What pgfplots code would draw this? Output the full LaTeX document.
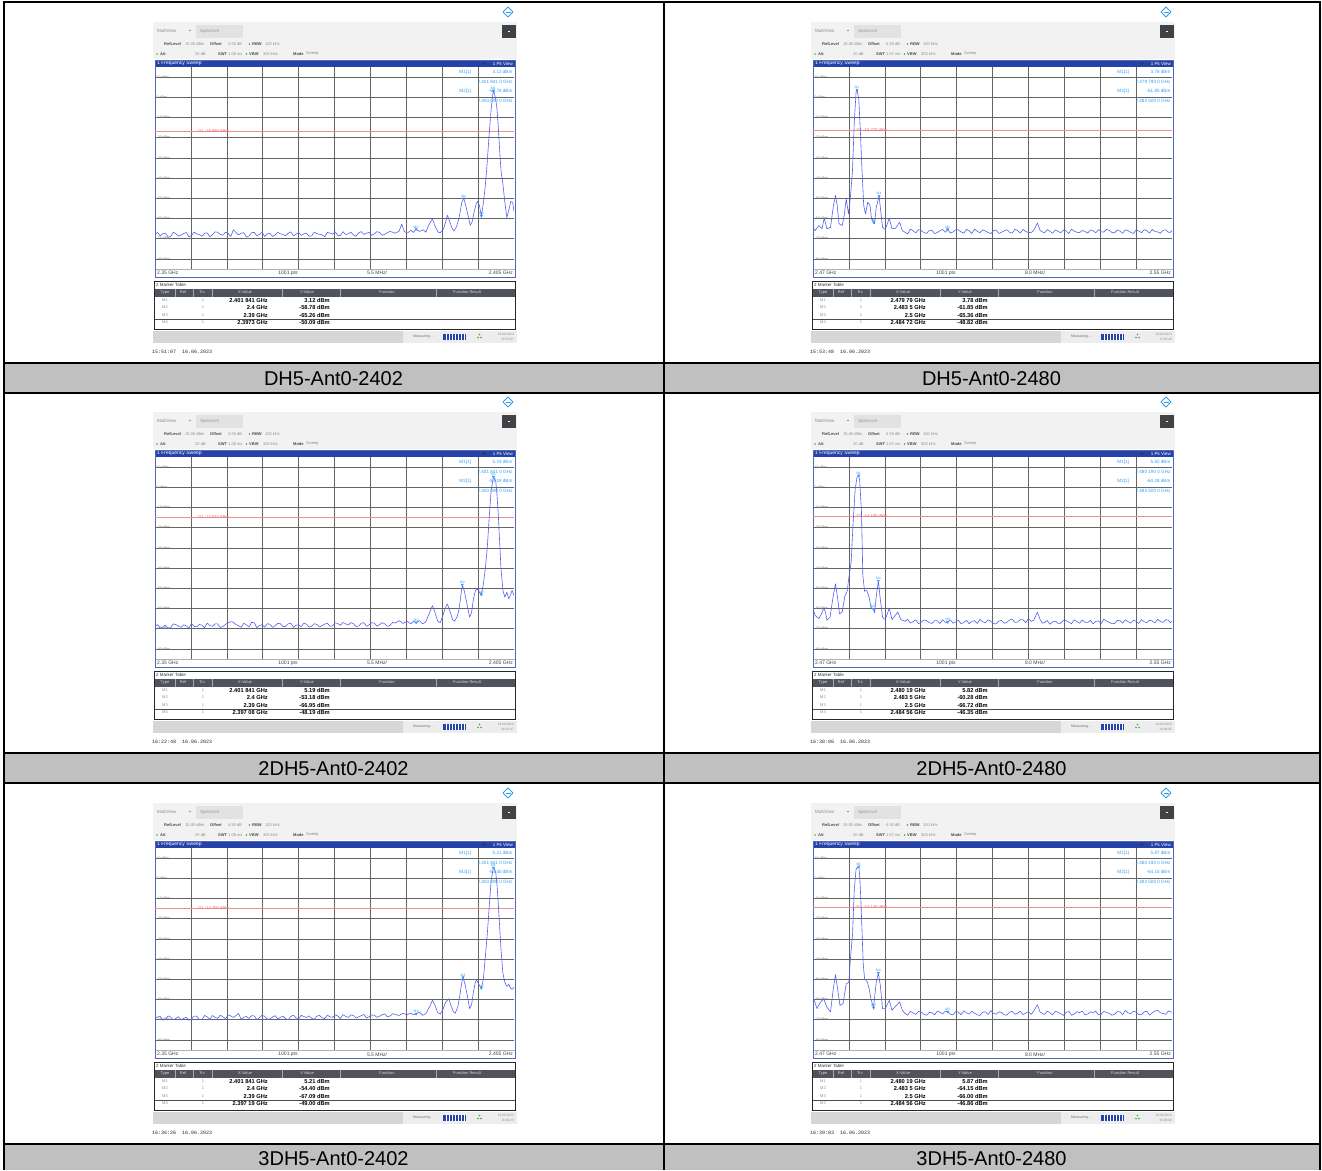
\documentclass[border=0pt]{standalone}
\usepackage{fontspec}
\setmainfont{Liberation Sans}
\setmonofont{Liberation Mono}
\usepackage{pgfplots}
\usepackage{pgfplotstable}
\pgfplotsset{compat=1.18}

\definecolor{rsblue}{RGB}{36,66,168}
\definecolor{trc}{RGB}{86,96,236}
\definecolor{mcol}{RGB}{48,158,240}
\definecolor{d1col}{RGB}{238,104,104}
\definecolor{gridc}{RGB}{100,100,100}
\definecolor{capgray}{RGB}{192,192,192}
\definecolor{hdrgray}{RGB}{242,242,242}
\definecolor{tabgray}{RGB}{226,226,226}
\definecolor{btngray}{RGB}{64,66,70}
\definecolor{thead}{RGB}{80,82,94}
\definecolor{statgray}{RGB}{214,214,214}
\definecolor{okgreen}{RGB}{60,168,60}

\newcommand\fsz[1]{\fontsize{#1}{#1}\selectfont}

% ---- traces (GHz, dBm) ----
\pgfplotstableread{
f p
2.3500 -67.8
2.3504 -66.9
2.3508 -68.6
2.3512 -67.5
2.3516 -67.2
2.3520 -69.2
2.3524 -68.9
2.3528 -66.8
2.3532 -67.5
2.3536 -68.7
2.3540 -68.2
2.3544 -67.4
2.3548 -66.9
2.3552 -69.1
2.3556 -68.4
2.3560 -66.7
2.3564 -67.6
2.3568 -68.0
2.3572 -68.8
2.3576 -67.3
2.3580 -67.1
2.3584 -69.0
2.3588 -68.0
2.3592 -66.6
2.3596 -66.8
2.3600 -67.9
2.3604 -68.3
2.3608 -66.7
2.3612 -67.4
2.3616 -68.9
2.3620 -65.6
2.3624 -66.9
2.3628 -68.1
2.3632 -67.3
2.3636 -67.0
2.3640 -69.2
2.3644 -68.7
2.3648 -67.0
2.3652 -66.9
2.3656 -68.5
2.3660 -67.9
2.3664 -66.7
2.3668 -68.9
2.3672 -67.6
2.3676 -67.3
2.3680 -68.9
2.3684 -68.2
2.3688 -66.8
2.3692 -67.6
2.3696 -67.9
2.3700 -68.5
2.3704 -67.3
2.3708 -66.6
2.3712 -68.6
2.3716 -67.8
2.3720 -66.9
2.3724 -68.4
2.3728 -67.6
2.3732 -67.2
2.3736 -68.8
2.3740 -68.6
2.3744 -66.7
2.3748 -67.5
2.3752 -67.8
2.3756 -68.1
2.3760 -69.0
2.3764 -66.9
2.3768 -67.2
2.3772 -67.7
2.3776 -66.6
2.3780 -68.3
2.3784 -68.5
2.3788 -66.5
2.3792 -67.9
2.3796 -67.6
2.3800 -66.7
2.3804 -68.2
2.3808 -68.8
2.3812 -67.1
2.3816 -66.5
2.3820 -67.9
2.3824 -67.3
2.3828 -66.8
2.3832 -68.4
2.3836 -67.6
2.3840 -66.5
2.3844 -66.9
2.3848 -68.3
2.3852 -67.8
2.3856 -67.0
2.3860 -66.4
2.3864 -66.8
2.3868 -67.3
2.3874 -66.2
2.3878 -62.8
2.3882 -66.5
2.3887 -67.2
2.3892 -65.8
2.3896 -66.9
2.3900 -65.3
2.3905 -66.4
2.3911 -65.6
2.3915 -66.8
2.3919 -63.5
2.3925 -60.2
2.3930 -64.5
2.3934 -66.8
2.3937 -67.0
2.3942 -65.2
2.3945 -62.0
2.3948 -58.4
2.3951 -61.0
2.3955 -64.8
2.3958 -66.1
2.3962 -64.0
2.3966 -59.5
2.3970 -52.0
2.3973 -50.1
2.3976 -53.5
2.3980 -59.0
2.3983 -63.4
2.3986 -61.5
2.3989 -56.5
2.3992 -52.8
2.3994 -51.5
2.3997 -53.5
2.4000 -58.8
2.4003 -52.5
2.4006 -44.0
2.4009 -32.0
2.4012 -18.0
2.4015 -6.0
2.4017 0.5
2.40184 3.12
2.4020 2.0
2.4022 -1.0
2.4024 -6.0
2.4026 -15.0
2.4028 -26.0
2.4030 -36.0
2.4033 -43.0
2.4036 -52.0
2.4039 -59.5
2.4042 -56.0
2.4045 -51.5
2.4048 -52.0
2.4050 -56.5
}\trA

\pgfplotstableread{
f p
2.4700 -64.3
2.4705 -66.0
2.4713 -63.5
2.4720 -65.1
2.4725 -59.8
2.4731 -65.1
2.4739 -64.3
2.4745 -54.4
2.4750 -48.6
2.4754 -53.6
2.4758 -62.6
2.4765 -63.5
2.4770 -57.7
2.4774 -50.3
2.4779 -57.7
2.4783 -50.3
2.4788 -36.2
2.4792 -12.3
2.4796 2.6
2.47979 3.78
2.4802 -0.7
2.4806 -18.9
2.4809 -35.4
2.4813 -53.6
2.4817 -57.7
2.4822 -51.9
2.4827 -53.6
2.4830 -59.3
2.4835 -61.85
2.4837 -62.6
2.4841 -54.4
2.48472 -48.82
2.4850 -54.4
2.4855 -64.3
2.4861 -65.5
2.4870 -59.8
2.4876 -65.1
2.4884 -64.8
2.4893 -61.8
2.4899 -66.0
2.4905 -66.8
2.4911 -67.6
2.4917 -65.2
2.4923 -66.1
2.4929 -67.1
2.4935 -65.5
2.4941 -66.0
2.4947 -66.9
2.4953 -67.4
2.4959 -65.9
2.4965 -65.8
2.4971 -67.5
2.4977 -66.9
2.4983 -66.0
2.4989 -65.4
2.4995 -66.8
2.5000 -65.4
2.5006 -67.2
2.5012 -66.7
2.5018 -65.5
2.5024 -65.6
2.5030 -66.6
2.5036 -67.3
2.5042 -65.4
2.5048 -66.1
2.5054 -67.4
2.5060 -65.3
2.5066 -66.4
2.5072 -67.0
2.5078 -65.6
2.5084 -66.2
2.5090 -66.9
2.5096 -67.5
2.5102 -66.0
2.5108 -65.7
2.5114 -67.4
2.5120 -66.8
2.5126 -66.1
2.5132 -65.5
2.5138 -66.8
2.5144 -67.2
2.5150 -65.3
2.5156 -66.0
2.5162 -67.2
2.5168 -65.4
2.5174 -66.5
2.5180 -66.9
2.5186 -67.0
2.5192 -65.8
2.5200 -62.2
2.5206 -65.9
2.5211 -66.6
2.5216 -67.1
2.5222 -65.5
2.5228 -66.3
2.5234 -67.3
2.5240 -65.6
2.5246 -66.4
2.5252 -67.0
2.5258 -65.8
2.5264 -66.1
2.5270 -67.4
2.5276 -65.3
2.5282 -66.2
2.5288 -66.8
2.5294 -67.0
2.5300 -65.9
2.5306 -66.4
2.5312 -67.2
2.5318 -65.7
2.5324 -66.0
2.5330 -67.1
2.5336 -65.5
2.5342 -66.6
2.5348 -66.7
2.5354 -65.4
2.5360 -65.8
2.5366 -66.9
2.5372 -67.1
2.5378 -65.7
2.5384 -66.2
2.5390 -67.3
2.5396 -65.6
2.5402 -66.0
2.5408 -66.9
2.5414 -67.4
2.5420 -65.7
2.5426 -66.2
2.5432 -67.0
2.5438 -65.5
2.5444 -66.1
2.5450 -67.2
2.5456 -65.4
2.5462 -66.5
2.5468 -66.6
2.5474 -67.3
2.5480 -65.9
2.5486 -65.6
2.5492 -66.8
2.5496 -66.9
2.5500 -66.0
}\trB

\pgfplotstableread{
f p
2.3500 -68.9
2.3504 -68.0
2.3508 -69.8
2.3512 -69.2
2.3516 -68.2
2.3520 -69.9
2.3524 -69.5
2.3528 -67.6
2.3532 -68.0
2.3536 -68.8
2.3540 -69.3
2.3544 -68.1
2.3548 -68.6
2.3552 -69.7
2.3556 -67.4
2.3560 -68.9
2.3564 -69.0
2.3568 -67.9
2.3572 -68.3
2.3576 -69.5
2.3580 -67.2
2.3584 -68.4
2.3588 -68.8
2.3592 -67.6
2.3596 -67.6
2.3600 -69.4
2.3604 -68.9
2.3608 -67.9
2.3612 -67.0
2.3616 -66.5
2.3620 -66.8
2.3624 -67.9
2.3628 -68.5
2.3632 -69.3
2.3636 -67.3
2.3640 -68.1
2.3644 -69.1
2.3648 -66.9
2.3652 -67.0
2.3656 -69.5
2.3660 -68.4
2.3664 -68.0
2.3668 -69.2
2.3672 -67.5
2.3676 -67.8
2.3680 -69.3
2.3684 -68.6
2.3688 -67.4
2.3692 -67.5
2.3696 -68.9
2.3700 -68.9
2.3704 -67.6
2.3708 -67.2
2.3712 -69.3
2.3716 -68.3
2.3720 -68.0
2.3724 -69.0
2.3728 -67.3
2.3732 -67.7
2.3736 -69.2
2.3740 -68.8
2.3744 -67.5
2.3748 -67.9
2.3752 -69.1
2.3756 -68.5
2.3760 -67.7
2.3764 -67.3
2.3768 -68.8
2.3772 -68.6
2.3776 -67.1
2.3780 -67.4
2.3784 -68.3
2.3788 -66.9
2.3792 -67.6
2.3796 -68.2
2.3800 -67.0
2.3804 -67.5
2.3808 -68.9
2.3812 -68.7
2.3816 -67.3
2.3820 -67.0
2.3824 -68.8
2.3828 -68.1
2.3832 -67.0
2.3836 -67.3
2.3840 -68.7
2.3844 -68.0
2.3848 -67.0
2.3852 -67.6
2.3856 -68.8
2.3860 -68.4
2.3864 -66.9
2.3868 -67.2
2.3874 -66.0
2.3880 -67.4
2.3886 -66.3
2.3892 -67.5
2.3896 -66.4
2.3900 -66.95
2.3905 -66.0
2.3910 -67.6
2.3915 -66.5
2.3920 -62.5
2.3925 -58.6
2.3929 -62.0
2.3933 -66.2
2.3937 -67.0
2.3941 -63.5
2.3945 -59.5
2.3948 -57.8
2.3952 -61.5
2.3956 -65.5
2.3959 -66.2
2.3963 -64.0
2.3966 -60.0
2.3969 -52.5
2.39708 -48.2
2.3974 -51.5
2.3978 -58.0
2.3982 -64.3
2.3985 -62.0
2.3988 -55.0
2.3991 -51.0
2.3994 -50.5
2.3997 -52.0
2.4000 -53.2
2.4003 -48.0
2.4006 -40.5
2.4009 -30.0
2.4012 -15.0
2.4015 -1.5
2.40184 5.19
2.4020 4.5
2.4022 3.2
2.4024 -4.0
2.4026 -14.0
2.4028 -27.0
2.4030 -40.0
2.4033 -51.0
2.4036 -54.4
2.4039 -52.0
2.4042 -55.2
2.4045 -53.0
2.4047 -51.0
2.4050 -53.6
}\trC

\pgfplotstableread{
f p
2.4700 -60.2
2.4705 -63.5
2.4713 -65.0
2.4719 -62.5
2.4724 -59.8
2.4728 -62.0
2.4731 -65.8
2.4738 -64.3
2.4745 -53.8
2.4750 -47.8
2.4755 -55.0
2.4759 -62.6
2.4765 -61.8
2.4771 -53.8
2.4776 -51.6
2.4780 -44.5
2.4785 -37.0
2.4789 -19.0
2.4794 -1.0
2.4798 5.0
2.48019 5.82
2.4804 3.5
2.4808 -12.0
2.4811 -43.6
2.4815 -51.5
2.4820 -51.0
2.4825 -54.4
2.4829 -59.3
2.4835 -60.28
2.4837 -62.0
2.4841 -54.0
2.48456 -46.35
2.4850 -55.5
2.4855 -64.3
2.4861 -65.5
2.4870 -59.8
2.4876 -65.5
2.4889 -61.8
2.4896 -65.5
2.4905 -66.3
2.4911 -65.4
2.4917 -67.2
2.4923 -66.5
2.4929 -65.6
2.4935 -67.5
2.4941 -66.8
2.4947 -65.7
2.4953 -65.9
2.4959 -67.0
2.4965 -67.4
2.4971 -66.0
2.4977 -66.1
2.4983 -67.4
2.4989 -65.5
2.4995 -66.9
2.5000 -66.7
2.5006 -65.6
2.5012 -67.3
2.5018 -66.6
2.5024 -65.8
2.5030 -67.6
2.5036 -66.9
2.5042 -65.9
2.5048 -67.5
2.5054 -66.4
2.5060 -66.0
2.5066 -67.4
2.5072 -65.4
2.5078 -66.5
2.5084 -67.1
2.5090 -65.6
2.5096 -66.3
2.5102 -67.5
2.5108 -67.6
2.5114 -66.2
2.5120 -65.9
2.5126 -67.3
2.5132 -66.8
2.5138 -65.7
2.5144 -65.2
2.5150 -66.9
2.5156 -66.7
2.5162 -65.5
2.5168 -65.6
2.5174 -67.0
2.5180 -64.9
2.5186 -66.3
2.5192 -65.8
2.5200 -61.8
2.5206 -65.4
2.5211 -67.3
2.5216 -66.9
2.5222 -65.9
2.5228 -67.8
2.5234 -66.6
2.5240 -66.2
2.5246 -67.4
2.5252 -67.3
2.5258 -65.8
2.5264 -66.0
2.5270 -66.7
2.5276 -67.5
2.5282 -65.6
2.5288 -66.4
2.5294 -67.3
2.5300 -65.7
2.5306 -66.8
2.5312 -66.9
2.5318 -65.9
2.5324 -67.6
2.5330 -66.4
2.5336 -66.1
2.5342 -67.5
2.5348 -65.3
2.5354 -66.2
2.5360 -66.8
2.5366 -67.5
2.5372 -67.4
2.5378 -65.9
2.5384 -66.0
2.5390 -67.2
2.5396 -65.6
2.5402 -66.5
2.5408 -67.2
2.5414 -65.8
2.5420 -66.3
2.5426 -67.4
2.5432 -65.5
2.5438 -66.6
2.5444 -67.0
2.5450 -65.7
2.5456 -66.2
2.5462 -67.1
2.5468 -65.4
2.5474 -66.4
2.5480 -66.9
2.5486 -65.5
2.5492 -65.8
2.5496 -67.0
2.5500 -66.4
}\trD

\pgfplotstableread{
f p
2.3500 -69.5
2.3504 -68.6
2.3508 -68.4
2.3512 -70.2
2.3516 -69.9
2.3520 -68.1
2.3524 -68.7
2.3528 -70.0
2.3532 -69.4
2.3536 -68.5
2.3540 -70.1
2.3544 -69.3
2.3548 -68.8
2.3552 -70.3
2.3556 -69.6
2.3560 -68.2
2.3564 -68.3
2.3568 -70.0
2.3572 -69.8
2.3576 -67.9
2.3580 -68.6
2.3584 -69.7
2.3588 -67.9
2.3592 -68.8
2.3596 -69.3
2.3600 -67.8
2.3604 -68.5
2.3608 -69.6
2.3612 -67.6
2.3616 -68.1
2.3620 -68.9
2.3624 -68.0
2.3628 -66.9
2.3632 -69.8
2.3636 -68.7
2.3640 -68.4
2.3644 -69.4
2.3648 -68.0
2.3652 -68.1
2.3656 -69.9
2.3660 -69.0
2.3664 -67.8
2.3668 -68.3
2.3672 -69.8
2.3676 -69.6
2.3680 -68.7
2.3684 -68.0
2.3688 -69.6
2.3692 -68.9
2.3696 -68.2
2.3700 -69.5
2.3704 -70.0
2.3708 -68.4
2.3712 -67.7
2.3716 -69.1
2.3720 -69.7
2.3724 -67.8
2.3728 -68.4
2.3732 -68.9
2.3736 -68.1
2.3740 -69.3
2.3744 -69.8
2.3748 -68.2
2.3752 -67.9
2.3756 -69.0
2.3760 -69.5
2.3764 -67.7
2.3768 -68.6
2.3772 -68.8
2.3776 -67.6
2.3780 -68.1
2.3784 -69.4
2.3788 -67.5
2.3792 -68.3
2.3796 -68.9
2.3800 -67.6
2.3804 -67.9
2.3808 -69.2
2.3812 -68.6
2.3816 -68.0
2.3820 -67.4
2.3824 -69.1
2.3828 -68.5
2.3832 -67.6
2.3836 -67.8
2.3840 -68.8
2.3844 -68.3
2.3848 -67.5
2.3852 -67.1
2.3856 -68.6
2.3860 -68.2
2.3864 -67.0
2.3868 -67.4
2.3874 -67.9
2.3880 -66.8
2.3886 -67.6
2.3892 -66.7
2.3896 -67.5
2.3900 -67.1
2.3905 -66.2
2.3910 -67.8
2.3915 -67.0
2.3920 -64.0
2.3925 -60.4
2.3929 -63.0
2.3933 -66.5
2.3937 -67.2
2.3941 -65.0
2.3945 -61.5
2.3950 -59.6
2.3953 -62.5
2.3957 -66.0
2.3960 -66.8
2.3964 -63.5
2.3967 -58.0
2.3970 -51.5
2.39719 -49.0
2.3975 -52.5
2.3979 -59.0
2.3982 -64.5
2.3985 -62.5
2.3988 -56.0
2.3991 -51.0
2.3993 -50.5
2.3996 -52.5
2.4000 -54.4
2.4003 -50.0
2.4006 -39.0
2.4009 -28.0
2.4012 -14.0
2.4015 -1.0
2.40184 5.21
2.4020 4.6
2.4022 3.0
2.4024 -3.5
2.4026 -13.0
2.4028 -24.0
2.4030 -35.0
2.4033 -47.0
2.4036 -51.5
2.4039 -53.5
2.4042 -52.5
2.4045 -54.5
2.4047 -55.0
2.4050 -54.0
}\trE

\pgfplotstableread{
f p
2.4700 -58.8
2.4709 -64.5
2.4716 -61.5
2.4724 -59.6
2.4731 -63.8
2.4739 -66.2
2.4745 -55.0
2.4750 -47.7
2.4755 -55.0
2.4760 -62.9
2.4767 -62.0
2.4774 -52.2
2.4780 -51.5
2.4783 -40.7
2.4788 -28.0
2.4792 -5.5
2.4796 4.6
2.48019 5.87
2.4804 1.5
2.4807 -12.5
2.4812 -43.0
2.4815 -49.7
2.4821 -51.3
2.4825 -54.6
2.4829 -59.6
2.4835 -64.15
2.4837 -59.6
2.4841 -51.3
2.48456 -46.86
2.4850 -53.0
2.4855 -64.5
2.4861 -64.5
2.4870 -60.4
2.4876 -65.3
2.4893 -61.2
2.4899 -65.3
2.4905 -66.9
2.4911 -67.7
2.4917 -65.8
2.4923 -66.6
2.4929 -67.4
2.4935 -65.9
2.4941 -66.2
2.4947 -67.3
2.4953 -67.8
2.4959 -66.4
2.4965 -66.5
2.4971 -67.6
2.4977 -65.7
2.4983 -66.4
2.4989 -67.0
2.4995 -65.8
2.5000 -66.0
2.5006 -67.3
2.5012 -67.6
2.5018 -66.0
2.5024 -66.3
2.5030 -67.5
2.5036 -65.6
2.5042 -66.6
2.5048 -67.2
2.5054 -65.9
2.5060 -66.7
2.5066 -67.6
2.5072 -67.9
2.5078 -66.3
2.5084 -66.1
2.5090 -67.4
2.5096 -65.5
2.5102 -66.8
2.5108 -67.3
2.5114 -66.1
2.5120 -66.4
2.5126 -67.6
2.5132 -67.7
2.5138 -66.2
2.5144 -65.9
2.5150 -67.3
2.5156 -66.8
2.5162 -65.8
2.5168 -67.5
2.5174 -66.7
2.5180 -66.0
2.5186 -67.4
2.5192 -65.6
2.5200 -62.6
2.5206 -66.2
2.5211 -66.9
2.5216 -67.4
2.5222 -65.7
2.5228 -66.6
2.5234 -67.5
2.5240 -65.8
2.5246 -66.3
2.5252 -67.1
2.5258 -67.8
2.5264 -66.4
2.5270 -65.9
2.5276 -67.8
2.5282 -67.2
2.5288 -66.0
2.5294 -66.5
2.5300 -65.7
2.5306 -67.6
2.5312 -67.2
2.5318 -66.1
2.5324 -66.5
2.5330 -65.8
2.5336 -67.6
2.5342 -67.3
2.5348 -65.9
2.5354 -66.4
2.5360 -66.8
2.5366 -67.8
2.5372 -67.3
2.5378 -66.0
2.5384 -66.1
2.5390 -67.5
2.5396 -65.4
2.5402 -66.6
2.5408 -67.0
2.5414 -65.8
2.5420 -66.2
2.5426 -67.4
2.5432 -67.5
2.5438 -66.1
2.5444 -65.8
2.5450 -67.7
2.5456 -66.6
2.5462 -65.7
2.5468 -65.3
2.5474 -66.6
2.5480 -66.9
2.5486 -67.4
2.5492 -65.6
2.5496 -66.0
2.5500 -66.3
}\trF

% ---- markers M1..M4 ----
\pgfplotstableread{
x y lab
2.401841 3.12 M1
2.4 -58.78 M2
2.39 -65.26 M3
2.3973 -50.09 M4
}\mkA
\pgfplotstableread{
x y lab
2.47979 3.78 M1
2.4835 -61.85 M2
2.5 -65.36 M3
2.48472 -48.82 M4
}\mkB
\pgfplotstableread{
x y lab
2.401841 5.19 M1
2.4 -53.18 M2
2.39 -66.95 M3
2.39708 -48.19 M4
}\mkC
\pgfplotstableread{
x y lab
2.48019 5.82 M1
2.4835 -60.28 M2
2.5 -66.72 M3
2.48456 -46.35 M4
}\mkD
\pgfplotstableread{
x y lab
2.401841 5.21 M1
2.4 -54.40 M2
2.39 -67.09 M3
2.39719 -49.00 M4
}\mkE
\pgfplotstableread{
x y lab
2.48019 5.87 M1
2.4835 -64.15 M2
2.5 -66.00 M3
2.48456 -46.86 M4
}\mkF

\pgfplotsset{
  shot/.style={
    scale only axis, width=359pt, height=202pt, anchor=south west,
    ymin=-85, ymax=15,
    ytick={-80,-70,...,10},
    yticklabels={-80 dBm,-70 dBm,-60 dBm,-50 dBm,-40 dBm,-30 dBm,-20 dBm,-10 dBm,0 dBm,10 dBm},
    yticklabel style={anchor=west, font=\fsz{3.5}, text=black!55, inner sep=0pt, xshift=1.5pt},
    xticklabels={},
    major tick length=0pt,
    grid=major,
    major grid style={gridc, line width=0.45pt},
    axis line style={draw=none},
  },
  shotL/.style={shot, xmin=2.35, xmax=2.405,
    xtick={2.3555,2.361,2.3665,2.372,2.3775,2.383,2.3885,2.394,2.3995}},
  shotR/.style={shot, xmin=2.47, xmax=2.55,
    xtick={2.478,2.486,2.494,2.502,2.51,2.518,2.526,2.534,2.542}},
  sweep/.style={color=trc, line width=0.6pt, line join=round, mark=none},
  d1line/.style={color=d1col!75, line width=0.45pt, mark=none},
  mk/.style={only marks, mark=triangle*, mark size=1.3pt,
    mark options={rotate=180, fill=mcol, draw=mcol},
    nodes near coords, point meta=explicit symbolic,
    every node near coord/.append style={font=\fsz{3.4}, text=mcol, anchor=south, inner sep=0.6pt, yshift=0.3pt}},
}
\tikzset{
  d1lab/.style={anchor=west, font=\fsz{4.2}, text=d1col, inner sep=0pt},
  minf/.style={font=\fsz{4.6}, text=mcol, inner sep=0pt},
}

\newcommand\minfo[4]{%
  \node[minf] at (rel axis cs:0.864,0.975) {M1[1]};
  \node[minf, anchor=east] at (rel axis cs:0.996,0.975) {#1 dBm};
  \node[minf, anchor=east] at (rel axis cs:0.996,0.926) {#2 GHz};
  \node[minf] at (rel axis cs:0.864,0.881) {M2[1]};
  \node[minf, anchor=east] at (rel axis cs:0.996,0.881) {#3 dBm};
  \node[minf, anchor=east] at (rel axis cs:0.996,0.832) {#4 GHz};
}

% screenshot frame: #1 x0, #2 y0, #3 start, #4 stop, #5 span, #6 x values, #7 y values, #8 time, #9 status time
\newcommand\chrome[9]{%
\begin{scope}[shift={(#1pt,-#2pt)}, x=1pt, y=-1pt, every node/.style={inner sep=0pt}]
  \draw[mcol, line width=0.9pt, line join=round] (358,7) -- (363,12) -- (358,17) -- (353,12) -- cycle;
  \draw[mcol, line width=0.5pt] (355.5,12) -- (360.5,12);
  \fill[hdrgray] (3,22) rectangle (367,59);
  \node[anchor=west, font=\fsz{4.5}, text=black!45] at (7,31) {MultiView};
  \fill[mcol] (40,30.5) circle (0.9);
  \fill[tabgray] (46,25) rectangle (93,38);
  \node[anchor=west, font=\fsz{4.5}, text=black!40] at (50,31.5) {Spectrum};
  \fill[btngray] (352,24.5) rectangle (365.5,38);
  \fill[white] (358,31) rectangle (359.5,31.8);
  \begin{scope}[every node/.append style={anchor=west, font=\fsz{4}}]
    \node[text=black!70] at (14,44) {\textbf{RefLevel}};
    \node[text=black!45] at (35,44) {15.00 dBm};
    \node[text=black!70] at (60,44) {\textbf{Offset}};
    \node[text=black!45] at (78,44) {4.50 dB};
    \node[text=black!70] at (102,44) {\textbf{RBW}};
    \node[text=black!45] at (115,44) {100 kHz};
    \node[text=black!70] at (10,54) {\textbf{Att}};
    \node[text=black!45] at (45,54) {20 dB};
    \node[text=black!70] at (68,54) {\textbf{SWT}};
    \node[text=black!45] at (78,54) {\swt\ ms};
    \node[text=black!70] at (99,54) {\textbf{VBW}};
    \node[text=black!45] at (113,54) {300 kHz};
    \node[text=black!70] at (143,54) {\textbf{Mode}};
    \node[text=black!45] at (156,54) {Sweep};
  \end{scope}
  \fill[okgreen] (99.5,44) circle (0.9) (7,54) circle (0.9) (96.5,54) circle (0.9);
  \fill[rsblue] (5,60) rectangle (365,67);
  \node[anchor=west, font=\fsz{5}, text=white] at (7,63.7) {1 Frequency Sweep};
  \node[anchor=east, font=\fsz{4.5}, text=white] at (363,63.7) {1 Pk View};
  \fill[black!80] (334,63.5) circle (1.3);
  \draw[gridc!50, line width=0.4pt] (5,269) -- (365,269);
  \draw[rsblue!80, line width=0.7pt] (5,60) rectangle (365,277);
  \begin{scope}[every node/.append style={font=\fsz{5}, text=black!75}]
    \node[anchor=west] at (7,273.2) {#3};
    \node at (138,273.2) {1001 pts};
    \node at (227,273.2) {#5};
    \node[anchor=east] at (363,273.2) {#4};
  \end{scope}
  \node[anchor=west, font=\fsz{4.5}, text=black!80] at (6,284.5) {2 Marker Table};
  \draw[black!85, line width=0.8pt] (4.5,281) rectangle (365,329);
  \fill[thead] (5,288.5) rectangle (364.5,296.5);
  \begin{scope}[every node/.append style={font=\fsz{4}, text=white!85!black}]
    \node at (15,292.5) {Type}; \node at (33,292.5) {Ref}; \node at (52,292.5) {Trc};
    \node at (95,292.5) {X-Value}; \node at (157,292.5) {Y-Value};
    \node at (237,292.5) {Function}; \node at (317,292.5) {Function Result};
  \end{scope}
  \draw[white!50!thead, line width=0.3pt] (25,288.5)--(25,296.5) (43,288.5)--(43,296.5) (62,288.5)--(62,296.5) (132,288.5)--(132,296.5) (190,288.5)--(190,296.5) (286,288.5)--(286,296.5);
  \begin{scope}[every node/.append style={font=\fsz{4}, text=black!45}]
    \node at (15,300) {M1}; \node at (15,307.5) {M2}; \node at (15,315) {M3}; \node at (15,322.5) {M4};
    \node at (53,300) {1}; \node at (53,307.5) {1}; \node at (53,315) {1}; \node at (53,322.5) {1};
  \end{scope}
  \draw[black!70, line width=0.4pt] (5,318.7) -- (364.5,318.7);
  \node[anchor=east, align=right, font=\fontsize{5.7}{7.5}\selectfont\bfseries] at (118,311.3) {#6};
  \node[anchor=east, align=right, font=\fontsize{5.7}{7.5}\selectfont\bfseries] at (180,311.3) {#7};
  \fill[statgray] (3,330.5) rectangle (367,343);
  \fill[black!7] (253,330.5) rectangle (367,343);
  \node[anchor=west, font=\fsz{3.6}, text=black!55] at (263,336.7) {Measuring\,...};
  \fill[rsblue] (293,333.5) rectangle (315.5,340);
  \foreach \i in {296,299,...,314} \draw[white, line width=0.35pt] (\i,334) -- (\i,339.5);
  \fill[okgreen] (329.5,334.5) circle (0.8) (328,337.5) circle (0.8) (331,337.5) circle (0.8);
  \node[anchor=east, font=\fsz{3.2}, text=black!45] at (364,334) {16.06.2023};
  \node[anchor=east, font=\fsz{3.2}, text=black!45] at (364,339.5) {#9};
  \node[anchor=west, font=\ttfamily\fsz{5}, text=black!85] at (2,352) {#8\ \ 16.06.2023};
\end{scope}}

\begin{document}
\begin{tikzpicture}
\begin{scope}[x=1pt, y=-1pt]
  \path[use as bounding box] (0,0) rectangle (1322,1170);
  \fill[capgray] (4,363) rectangle (1320,393);
  \fill[capgray] (4,753) rectangle (1320,783);
  \fill[capgray] (4,1144) rectangle (1320,1170);
  \begin{scope}[every node/.style={font=\fontsize{20}{24}\selectfont, inner sep=0pt}]
    \node at (333.5,378.5) {DH5-Ant0-2402};
    \node at (991.5,378.5) {DH5-Ant0-2480};
    \node at (333.5,768.5) {2DH5-Ant0-2402};
    \node at (991.5,768.5) {2DH5-Ant0-2480};
    \node at (333.5,1158.5) {3DH5-Ant0-2402};
    \node at (991.5,1158.5) {3DH5-Ant0-2480};
  \end{scope}
\end{scope}

\def\swt{1.08}
\chrome{150}{0}{2.35 GHz}{2.405 GHz}{5.5 MHz/}{2.401 841 GHz\\2.4 GHz\\2.39 GHz\\2.3973 GHz}{3.12 dBm\\-58.78 dBm\\-65.26 dBm\\-50.09 dBm}{15:51:07}{15:51:07}
\chrome{150}{390}{2.35 GHz}{2.405 GHz}{5.5 MHz/}{2.401 841 GHz\\2.4 GHz\\2.39 GHz\\2.397 08 GHz}{5.19 dBm\\-53.18 dBm\\-66.95 dBm\\-48.19 dBm}{16:22:48}{16:22:47}
\chrome{150}{781}{2.35 GHz}{2.405 GHz}{5.5 MHz/}{2.401 841 GHz\\2.4 GHz\\2.39 GHz\\2.397 19 GHz}{5.21 dBm\\-54.40 dBm\\-67.09 dBm\\-49.00 dBm}{16:36:26}{16:36:25}
\def\swt{1.07}
\chrome{808}{0}{2.47 GHz}{2.55 GHz}{8.0 MHz/}{2.479 79 GHz\\2.483 5 GHz\\2.5 GHz\\2.484 72 GHz}{3.78 dBm\\-61.85 dBm\\-65.36 dBm\\-48.82 dBm}{15:53:48}{15:53:48}
\chrome{808}{390}{2.47 GHz}{2.55 GHz}{8.0 MHz/}{2.480 19 GHz\\2.483 5 GHz\\2.5 GHz\\2.484 56 GHz}{5.82 dBm\\-60.28 dBm\\-66.72 dBm\\-46.35 dBm}{16:30:06}{16:30:05}
\chrome{808}{781}{2.47 GHz}{2.55 GHz}{8.0 MHz/}{2.480 19 GHz\\2.483 5 GHz\\2.5 GHz\\2.484 56 GHz}{5.87 dBm\\-64.15 dBm\\-66.00 dBm\\-46.86 dBm}{16:39:03}{16:39:02}

% DH5 2402
\begin{axis}[shotL, at={(155pt,-269pt)}]
  \addplot[d1line] coordinates {(2.35,-16.88) (2.405,-16.88)};
  \node[d1lab] at (axis cs:2.3566,-16.88) {D1 -16.880 dBm};
  \addplot[sweep] table[x=f,y=p] {\trA};
  \addplot[mk] table[x=x,y=y,meta=lab] {\mkA};
  \minfo{3.12}{2.401 841 0}{-58.78}{2.400 000 0}
\end{axis}
% DH5 2480
\begin{axis}[shotR, at={(813pt,-269pt)}]
  \addplot[d1line] coordinates {(2.47,-16.22) (2.55,-16.22)};
  \node[d1lab] at (axis cs:2.4797,-16.22) {D1 -16.220 dBm};
  \addplot[sweep] table[x=f,y=p] {\trB};
  \addplot[mk] table[x=x,y=y,meta=lab] {\mkB};
  \minfo{3.78}{2.479 790 0}{-61.85}{2.483 500 0}
\end{axis}
% 2DH5 2402
\begin{axis}[shotL, at={(155pt,-659pt)}]
  \addplot[d1line] coordinates {(2.35,-14.81) (2.405,-14.81)};
  \node[d1lab] at (axis cs:2.3566,-14.81) {D1 -14.810 dBm};
  \addplot[sweep] table[x=f,y=p] {\trC};
  \addplot[mk] table[x=x,y=y,meta=lab] {\mkC};
  \minfo{5.19}{2.401 841 0}{-53.18}{2.400 000 0}
\end{axis}
% 2DH5 2480
\begin{axis}[shotR, at={(813pt,-659pt)}]
  \addplot[d1line] coordinates {(2.47,-14.18) (2.55,-14.18)};
  \node[d1lab] at (axis cs:2.4797,-14.18) {D1 -14.180 dBm};
  \addplot[sweep] table[x=f,y=p] {\trD};
  \addplot[mk] table[x=x,y=y,meta=lab] {\mkD};
  \minfo{5.82}{2.480 190 0}{-60.28}{2.483 500 0}
\end{axis}
% 3DH5 2402
\begin{axis}[shotL, at={(155pt,-1050pt)}]
  \addplot[d1line] coordinates {(2.35,-14.79) (2.405,-14.79)};
  \node[d1lab] at (axis cs:2.3566,-14.79) {D1 -14.790 dBm};
  \addplot[sweep] table[x=f,y=p] {\trE};
  \addplot[mk] table[x=x,y=y,meta=lab] {\mkE};
  \minfo{5.21}{2.401 841 0}{-54.40}{2.400 000 0}
\end{axis}
% 3DH5 2480
\begin{axis}[shotR, at={(813pt,-1050pt)}]
  \addplot[d1line] coordinates {(2.47,-14.13) (2.55,-14.13)};
  \node[d1lab] at (axis cs:2.4797,-14.13) {D1 -14.130 dBm};
  \addplot[sweep] table[x=f,y=p] {\trF};
  \addplot[mk] table[x=x,y=y,meta=lab] {\mkF};
  \minfo{5.87}{2.480 190 0}{-64.15}{2.483 500 0}
\end{axis}

\begin{scope}[x=1pt, y=-1pt, line width=1.5pt]
  \draw (3,2) -- (1321,2);
  \draw (3,363) -- (1321,363) (3,393) -- (1321,393);
  \draw (3,753) -- (1321,753) (3,783) -- (1321,783);
  \draw (3,1144) -- (1321,1144);
  \draw (4,2) -- (4,1170) (664,2) -- (664,1170) (1320,2) -- (1320,1170);
\end{scope}
\end{tikzpicture}
\end{document}
